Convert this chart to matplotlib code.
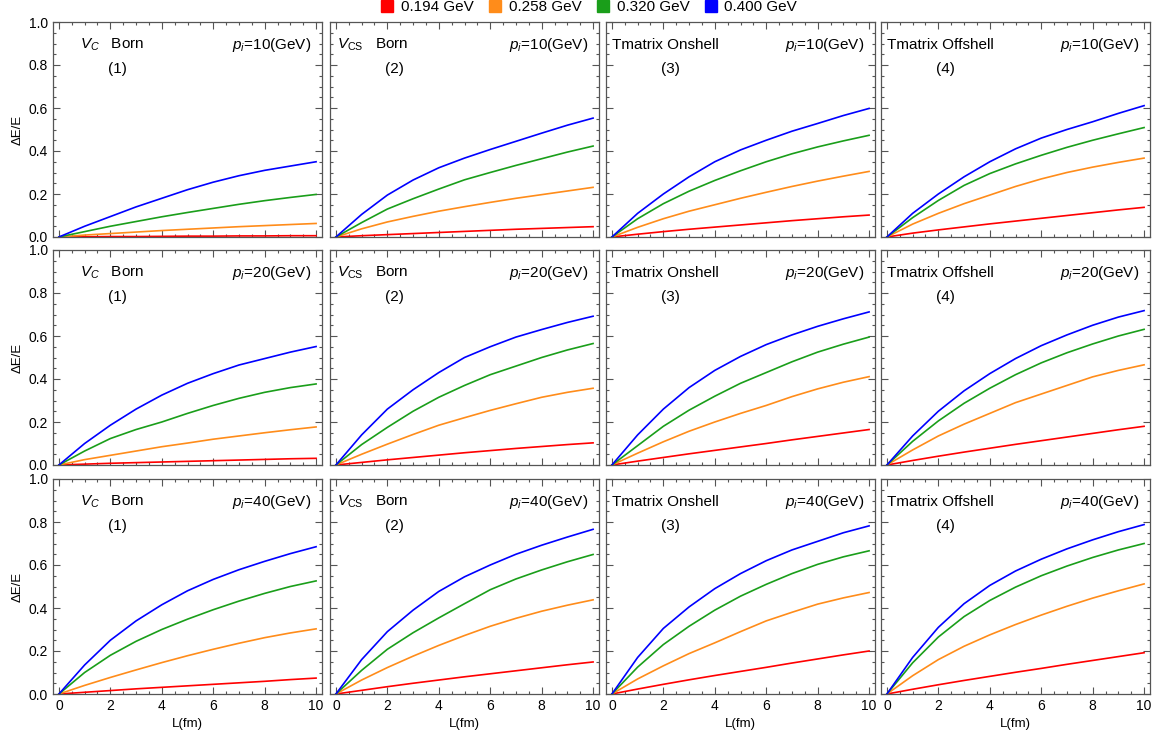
import matplotlib
matplotlib.use('Agg')
import matplotlib.pyplot as plt
from matplotlib.lines import Line2D
from matplotlib.ticker import MultipleLocator, FormatStrFormatter

plt.rcParams['font.family'] = ['Liberation Sans', 'DejaVu Sans']
plt.rcParams['mathtext.fontset'] = 'custom'
plt.rcParams['mathtext.rm'] = 'Liberation Sans'
plt.rcParams['mathtext.it'] = 'Liberation Sans:italic'

L = [0, 1, 2, 3, 4, 5, 6, 7, 8, 9, 10]
temps = ['0.194 GeV', '0.258 GeV', '0.320 GeV', '0.400 GeV']
colors = ['#ff0000', '#ff8c1a', '#1a9e1a', '#0000ff']
momenta = [10, 20, 40]
models = [r'$V_C$   Born', r'$V_{\rm CS}$   Born', 'Tmatrix Onshell', 'Tmatrix Offshell']

# p = 10 GeV
r1_vc = [
    [0, 0.001, 0.002, 0.002, 0.003, 0.004, 0.004, 0.005, 0.005, 0.006, 0.006],
    [0, 0.009, 0.016, 0.023, 0.030, 0.036, 0.042, 0.048, 0.053, 0.058, 0.063],
    [0, 0.025, 0.050, 0.072, 0.094, 0.114, 0.133, 0.152, 0.169, 0.184, 0.198],
    [0, 0.050, 0.095, 0.140, 0.180, 0.220, 0.255, 0.285, 0.310, 0.330, 0.350],
]
r1_vcs = [
    [0, 0.006, 0.011, 0.016, 0.021, 0.026, 0.031, 0.036, 0.040, 0.044, 0.048],
    [0, 0.038, 0.070, 0.096, 0.120, 0.141, 0.161, 0.180, 0.197, 0.214, 0.231],
    [0, 0.067, 0.130, 0.178, 0.223, 0.266, 0.300, 0.333, 0.364, 0.395, 0.423],
    [0, 0.105, 0.195, 0.265, 0.322, 0.367, 0.407, 0.445, 0.483, 0.520, 0.553],
]
r1_on = [
    [0, 0.013, 0.025, 0.036, 0.046, 0.056, 0.066, 0.076, 0.085, 0.094, 0.102],
    [0, 0.045, 0.085, 0.120, 0.150, 0.180, 0.208, 0.235, 0.260, 0.283, 0.305],
    [0, 0.085, 0.155, 0.213, 0.263, 0.308, 0.350, 0.387, 0.419, 0.447, 0.473],
    [0, 0.110, 0.200, 0.280, 0.350, 0.405, 0.450, 0.492, 0.528, 0.565, 0.598],
]
r1_off = [
    [0, 0.018, 0.033, 0.047, 0.061, 0.074, 0.087, 0.100, 0.113, 0.126, 0.138],
    [0, 0.060, 0.110, 0.155, 0.195, 0.235, 0.270, 0.300, 0.325, 0.347, 0.367],
    [0, 0.090, 0.170, 0.240, 0.295, 0.340, 0.380, 0.417, 0.450, 0.480, 0.509],
    [0, 0.110, 0.200, 0.280, 0.350, 0.410, 0.460, 0.500, 0.536, 0.575, 0.611],
]
# p = 20 GeV
r2_vc = [
    [0, 0.004, 0.008, 0.011, 0.014, 0.017, 0.020, 0.023, 0.026, 0.029, 0.031],
    [0, 0.025, 0.045, 0.065, 0.085, 0.102, 0.120, 0.135, 0.150, 0.164, 0.177],
    [0, 0.065, 0.123, 0.165, 0.200, 0.240, 0.277, 0.310, 0.338, 0.360, 0.377],
    [0, 0.100, 0.185, 0.260, 0.325, 0.380, 0.425, 0.465, 0.495, 0.525, 0.551],
]
r2_vcs = [
    [0, 0.012, 0.024, 0.035, 0.046, 0.057, 0.067, 0.077, 0.086, 0.095, 0.103],
    [0, 0.050, 0.097, 0.142, 0.185, 0.220, 0.254, 0.285, 0.315, 0.338, 0.357],
    [0, 0.095, 0.175, 0.250, 0.315, 0.370, 0.420, 0.460, 0.500, 0.535, 0.565],
    [0, 0.140, 0.260, 0.350, 0.430, 0.500, 0.550, 0.595, 0.630, 0.663, 0.692],
]
r2_on = [
    [0, 0.018, 0.035, 0.052, 0.068, 0.084, 0.100, 0.117, 0.133, 0.149, 0.165],
    [0, 0.055, 0.108, 0.157, 0.200, 0.240, 0.277, 0.318, 0.354, 0.385, 0.411],
    [0, 0.090, 0.180, 0.255, 0.320, 0.380, 0.430, 0.480, 0.525, 0.562, 0.595],
    [0, 0.140, 0.260, 0.360, 0.440, 0.505, 0.560, 0.605, 0.645, 0.680, 0.712],
]
r2_off = [
    [0, 0.021, 0.041, 0.060, 0.078, 0.096, 0.113, 0.130, 0.147, 0.164, 0.180],
    [0, 0.070, 0.135, 0.190, 0.240, 0.290, 0.330, 0.370, 0.410, 0.440, 0.466],
    [0, 0.110, 0.205, 0.287, 0.357, 0.420, 0.475, 0.522, 0.563, 0.600, 0.631],
    [0, 0.135, 0.250, 0.345, 0.425, 0.495, 0.555, 0.605, 0.650, 0.688, 0.718],
]
# p = 40 GeV
r3_vc = [
    [0, 0.008, 0.016, 0.024, 0.031, 0.038, 0.045, 0.052, 0.059, 0.067, 0.074],
    [0, 0.040, 0.077, 0.112, 0.146, 0.178, 0.208, 0.236, 0.262, 0.284, 0.303],
    [0, 0.100, 0.180, 0.245, 0.300, 0.348, 0.392, 0.432, 0.468, 0.500, 0.526],
    [0, 0.135, 0.250, 0.340, 0.415, 0.480, 0.533, 0.578, 0.617, 0.653, 0.685],
]
r3_vcs = [
    [0, 0.017, 0.034, 0.050, 0.065, 0.080, 0.094, 0.108, 0.122, 0.136, 0.149],
    [0, 0.065, 0.123, 0.176, 0.226, 0.272, 0.315, 0.352, 0.385, 0.413, 0.438],
    [0, 0.110, 0.208, 0.285, 0.354, 0.420, 0.485, 0.535, 0.577, 0.615, 0.649],
    [0, 0.160, 0.290, 0.390, 0.477, 0.545, 0.600, 0.650, 0.692, 0.730, 0.766],
]
r3_on = [
    [0, 0.023, 0.045, 0.066, 0.086, 0.105, 0.124, 0.144, 0.163, 0.182, 0.200],
    [0, 0.070, 0.131, 0.188, 0.238, 0.290, 0.340, 0.380, 0.418, 0.447, 0.472],
    [0, 0.125, 0.230, 0.315, 0.390, 0.455, 0.510, 0.560, 0.603, 0.638, 0.666],
    [0, 0.170, 0.305, 0.405, 0.490, 0.560, 0.620, 0.670, 0.710, 0.750, 0.782],
]
r3_off = [
    [0, 0.022, 0.043, 0.063, 0.082, 0.101, 0.119, 0.138, 0.156, 0.174, 0.192],
    [0, 0.085, 0.160, 0.222, 0.275, 0.323, 0.367, 0.408, 0.446, 0.480, 0.512],
    [0, 0.145, 0.265, 0.360, 0.435, 0.497, 0.550, 0.595, 0.635, 0.670, 0.700],
    [0, 0.170, 0.310, 0.420, 0.505, 0.572, 0.627, 0.675, 0.717, 0.755, 0.788],
]

panels = [
    [r1_vc, r1_vcs, r1_on, r1_off],
    [r2_vc, r2_vcs, r2_on, r2_off],
    [r3_vc, r3_vcs, r3_on, r3_off],
]

W, H = 1158, 739
fig = plt.figure(figsize=(W / 100, H / 100), dpi=100)

col_left = [53, 330, 606, 881]
row_top = [22, 250, 479]
pw, ph = 269, 215
model_x = [0.10, 0.026, 0.022, 0.022]

for r in range(3):
    for c in range(4):
        ax = fig.add_axes([col_left[c] / W, 1 - (row_top[r] + ph) / H, pw / W, ph / H])
        for k in range(4):
            ax.plot(L, panels[r][c][k], color=colors[k], lw=1.2)
        ax.set_xlim(-0.23, 10.23)
        ax.set_ylim(0, 1.0)
        ax.xaxis.set_major_locator(MultipleLocator(2))
        ax.xaxis.set_minor_locator(MultipleLocator(0.5))
        ax.yaxis.set_major_locator(MultipleLocator(0.2))
        ax.yaxis.set_minor_locator(MultipleLocator(0.05))
        ax.tick_params(which='both', direction='in', top=True, right=True,
                       color='#555555', labelsize=10, width=0.8)
        ax.tick_params(which='major', length=5)
        ax.tick_params(which='minor', length=2.5)
        for s in ax.spines.values():
            s.set_color('#555555')
            s.set_linewidth(0.9)
        if c == 0:
            ax.set_ylabel('ΔE/E', fontsize=9.5)
            ax.yaxis.set_major_formatter(FormatStrFormatter('%.1f'))
        else:
            ax.tick_params(labelleft=False)
        if r == 2:
            ax.set_xlabel('L(fm)', fontsize=9.5)
        else:
            ax.tick_params(labelbottom=False)
        ax.text(model_x[c], 0.895, models[c], transform=ax.transAxes,
                fontsize=11, va='center', ha='left')
        ax.text(0.24, 0.78, '(%d)' % (c + 1), transform=ax.transAxes,
                fontsize=11, va='center', ha='center')
        ax.text(0.96, 0.895, r'$p_i$=%d(GeV)' % momenta[r], transform=ax.transAxes,
                fontsize=11, va='center', ha='right')

handles = [Line2D([], [], marker='s', ls='none', color=col, markersize=8) for col in colors]
fig.legend(handles, temps, loc='center', bbox_to_anchor=(0.508, 1 - 7 / H), ncol=4,
           frameon=False, fontsize=11, handletextpad=0.4, columnspacing=0.9,
           handlelength=1.0)

fig.savefig('out.png', dpi=100)
